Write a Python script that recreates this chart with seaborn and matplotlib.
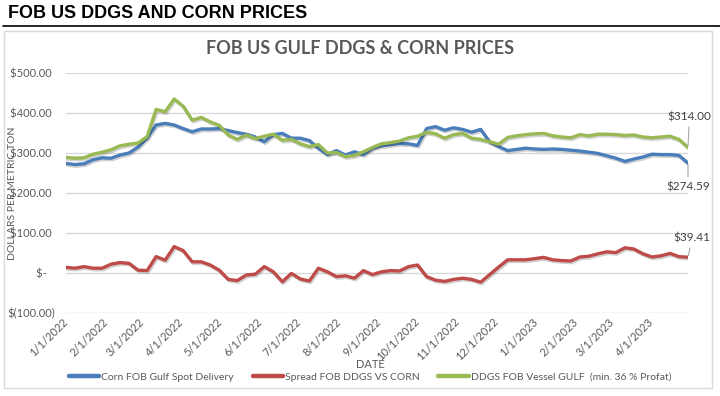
import matplotlib
matplotlib.use("Agg")
import matplotlib.pyplot as plt
import matplotlib.dates as mdates
import matplotlib.patheffects as pe
from matplotlib.patches import Rectangle
from matplotlib.lines import Line2D
from matplotlib.ticker import FuncFormatter
import numpy as np
import pandas as pd
import seaborn as sns

# ---------------- data ----------------
dates = pd.date_range("2022-01-01", periods=70, freq="7D")

corn = [274, 271, 273, 283, 288, 287, 295, 300, 315, 338,
        370, 374, 370, 361, 353, 360, 360, 361, 356, 351,
        347, 340, 328, 346, 349, 337, 337, 331, 312, 296,
        306, 295, 303, 296, 312, 318, 321, 324, 323, 319,
        361, 366, 357, 363, 359, 352, 359, 328, 316, 306,
        309, 312, 310, 309, 310, 309, 307, 305, 302, 299,
        293, 287, 279, 285, 290, 297, 296, 296, 294, 274.59]

spread = [14, 12, 16, 12, 12, 22, 26, 24, 7, 6,
          41, 32, 66, 56, 28, 28, 20, 7, -16, -19,
          -5, -3, 16, 3, -22, -1, -15, -20, 12, 3,
          -9, -7, -13, 6, -4, 3, 6, 5, 16, 20,
          -9, -18, -21, -16, -13, -16, -23, -4, 15, 33,
          33, 33, 36, 39, 33, 31, 30, 40, 42, 48,
          53, 51, 63, 60, 48, 40, 43, 49, 41, 39.41]

ddgs = [289, 287, 288, 297, 302, 308, 318, 322, 325, 341,
        409, 403, 435, 417, 382, 389, 378, 369, 345, 334,
        345, 336, 342, 347, 332, 334, 323, 316, 321, 300,
        301, 291, 294, 303, 314, 323, 326, 330, 338, 342,
        352, 348, 337, 346, 349, 337, 334, 328, 322, 339,
        343, 346, 348, 349, 343, 340, 338, 346, 343, 347,
        347, 346, 344, 345, 340, 338, 340, 342, 334, 314]

series_names = ["Corn FOB Gulf Spot Delivery",
                "Spread FOB DDGS VS CORN",
                "DDGS FOB Vessel GULF  (min. 36 % Profat)"]
colors = ["#4A7EBB", "#BE4B48", "#98B954"]

yticks = [500, 400, 300, 200, 100, 0, -100]
ytick_labels = ["$500.00 ", "$400.00 ", "$300.00 ", "$200.00 ", "$100.00 ", "$-   ", "$(100.00)"]

# ---------------- figure ----------------
sns.set_theme(style="white")
plt.rcParams["font.family"] = ["Lato", "DejaVu Sans"]

df = pd.DataFrame({
    "DATE": np.tile(dates, 3),
    "value": corn + spread + ddgs,
    "series": np.repeat(series_names, len(dates)),
})

fig = plt.figure(figsize=(7.2, 3.96), dpi=100)
W, H = 720, 396

# outer header
fig.text(8 / W, 1 - 14 / H, "FOB US DDGS AND CORN PRICES", fontsize=13,
         fontweight="bold", family=["Liberation Sans", "DejaVu Sans"],
         color="black", va="center", ha="left")
fig.add_artist(Line2D([3 / W, 1.0], [1 - 26 / H, 1 - 26 / H], color="black", lw=1.2,
                      transform=fig.transFigure))
# chart box
fig.add_artist(Rectangle((4 / W, 1 - 388 / H), 708 / W, 357 / H, transform=fig.transFigure,
                         fill=False, edgecolor="#d9d9d9", lw=1))

ax = fig.add_axes([66 / W, 1 - 313 / H, 622 / W, 240 / H])
shadow = [pe.SimpleLineShadow(offset=(0.8, -1.2), alpha=0.18, shadow_color="black"), pe.Normal()]
sns.lineplot(data=df, x="DATE", y="value", hue="series", hue_order=series_names,
             palette=colors, linewidth=2.4, ax=ax, legend=False,
             path_effects=shadow, solid_joinstyle="round", solid_capstyle="round")

ax.set_xlim(dates[0], dates[-1])
ax.set_ylim(-100, 500)
ax.set_yticks(yticks)
ax.set_yticklabels(ytick_labels)
ax.yaxis.grid(True, color="#d9d9d9", lw=1)
ax.xaxis.grid(False)
ax.set_axisbelow(True)
for s in ax.spines.values():
    s.set_visible(False)

ax.xaxis.set_major_locator(mdates.MonthLocator(bymonthday=1))
ax.xaxis.set_major_formatter(FuncFormatter(
    lambda v, p: (lambda d: f"{d.month}/{d.day}/{d.year}")(mdates.num2date(v))))
ax.tick_params(axis="both", length=0, colors="#595959", labelsize=8)
ax.tick_params(axis="y", pad=8)
ax.tick_params(axis="x", pad=5)
for lab in ax.get_xticklabels():
    lab.set_rotation(45)
    lab.set_ha("right")
    lab.set_va("center")
    lab.set_rotation_mode("anchor")

ax.set_xlabel("DATE", fontsize=8, color="#595959")
ax.xaxis.set_label_coords((370 - 66) / 622, (313 - 359) / 240)
ax.set_ylabel("DOLLARS PER METRIC TON", fontsize=7.5, color="#595959")
ax.yaxis.set_label_coords((17 - 66) / 622, 0.5)

fig.text(0.5, 1 - 48 / H, "FOB US GULF DDGS & CORN PRICES", ha="center", va="center",
         fontsize=13, fontweight="bold", color="#595959")

# end-point labels
ann_kw = dict(textcoords="offset points", ha="center", va="center", fontsize=8.5,
              color="#404040", annotation_clip=False,
              arrowprops=dict(arrowstyle="-", color="#a6a6a6", lw=0.8, shrinkA=1, shrinkB=1))
ax.annotate(f"${ddgs[-1]:.2f}", xy=(dates[-1], ddgs[-1]), xytext=(1, 22), **ann_kw)
ax.annotate(f"${corn[-1]:.2f}", xy=(dates[-1], corn[-1]), xytext=(0, -17), **ann_kw)
ax.annotate(f"${spread[-1]:.2f}", xy=(dates[-1], spread[-1]), xytext=(3, 14), **ann_kw)

handles = [Line2D([], [], color=c, lw=3.2) for c in colors]
fig.legend(handles, series_names, loc="center", bbox_to_anchor=(370 / W, 1 - 377 / H),
           ncol=3, frameon=False, fontsize=7.5, handlelength=2.9, columnspacing=1.8,
           handletextpad=0.2, labelcolor="#595959")

fig.savefig("out.png", dpi=100)
